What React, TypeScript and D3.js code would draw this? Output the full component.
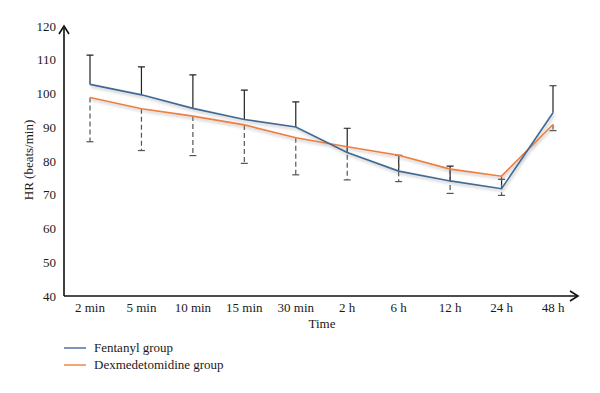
import React, { useEffect, useRef } from 'react';
import * as d3 from 'd3';

const times = ['2 min', '5 min', '10 min', '15 min', '30 min', '2 h', '6 h', '12 h', '24 h', '48 h'];
const fentanylMean = [102.7, 99.6, 95.6, 92.3, 90.1, 82.5, 77.0, 74.1, 71.8, 94.3];
const fentanylUpper = [111.4, 107.9, 105.5, 101.0, 97.5, 89.7, 81.7, 78.5, 74.6, 102.3];
const dexMean = [98.8, 95.5, 93.3, 90.7, 86.9, 84.2, 81.7, 77.6, 75.5, 90.8];
const dexLower = [85.7, 83.1, 81.6, 79.3, 75.9, 74.4, 73.9, 70.4, 69.8, 89.0];
const yTicks = [40, 50, 60, 70, 80, 90, 100, 110, 120];

const BLUE = '#3f6a95';
const ORANGE = '#f07e3c';
const FONT = '"Liberation Serif", "Times New Roman", serif';

export default function App() {
  const ref = useRef<SVGSVGElement | null>(null);

  useEffect(() => {
    const svg = d3.select(ref.current);
    svg.selectAll('*').remove();

    const x = d3.scalePoint<string>().domain(times).range([90, 553]);
    const y = d3.scaleLinear().domain([40, 120]).range([296, 26]);

    const defs = svg.append('defs');
    const f = defs
      .append('filter')
      .attr('id', 'glow')
      .attr('x', '-10%')
      .attr('y', '-20%')
      .attr('width', '120%')
      .attr('height', '140%');
    f.append('feDropShadow')
      .attr('dx', 1)
      .attr('dy', 2)
      .attr('stdDeviation', 1.6)
      .attr('flood-color', '#888')
      .attr('flood-opacity', 0.55);

    // axes
    const axis = svg.append('g').attr('stroke', '#111').attr('fill', 'none').attr('stroke-width', 1.6);
    axis.append('path').attr('d', `M64,${y(40)}V${y(120) + 2}`);
    axis.append('path').attr('d', `M59,${y(120) + 8}L64,${y(120)}L69,${y(120) + 8}`);
    axis.append('path').attr('d', `M64,${y(40)}H577`);
    axis.append('path').attr('d', `M570,${y(40) - 5}L578,${y(40)}L570,${y(40) + 5}`);

    svg
      .append('g')
      .selectAll('text')
      .data(yTicks)
      .join('text')
      .attr('x', 56)
      .attr('y', (d) => y(d))
      .attr('dy', '0.35em')
      .attr('text-anchor', 'end')
      .attr('font-family', FONT)
      .attr('font-size', 13)
      .attr('fill', '#1a1a1a')
      .text((d) => d);

    svg
      .append('g')
      .selectAll('text')
      .data(times)
      .join('text')
      .attr('x', (d) => x(d)!)
      .attr('y', 307)
      .attr('dy', '0.35em')
      .attr('text-anchor', 'middle')
      .attr('font-family', FONT)
      .attr('font-size', 13)
      .attr('fill', '#1a1a1a')
      .text((d) => d);

    svg
      .append('text')
      .attr('x', 322)
      .attr('y', 323)
      .attr('dy', '0.35em')
      .attr('text-anchor', 'middle')
      .attr('font-family', FONT)
      .attr('font-size', 13)
      .attr('fill', '#1a1a1a')
      .text('Time');

    svg
      .append('text')
      .attr('transform', `translate(28,160) rotate(-90)`)
      .attr('dy', '0.35em')
      .attr('text-anchor', 'middle')
      .attr('font-family', FONT)
      .attr('font-size', 13)
      .attr('fill', '#1a1a1a')
      .text('HR (beats/min)');

    // error bars
    const bars = svg.append('g');
    times.forEach((t, i) => {
      const cx = x(t)!;
      bars
        .append('path')
        .attr('d', `M${cx},${y(fentanylMean[i])}V${y(fentanylUpper[i])}M${cx - 3.5},${y(fentanylUpper[i])}H${cx + 3.5}`)
        .attr('stroke', '#222')
        .attr('stroke-width', 1.2)
        .attr('fill', 'none');
      bars
        .append('path')
        .attr('d', `M${cx},${y(dexMean[i])}V${y(dexLower[i])}`)
        .attr('stroke', '#555')
        .attr('stroke-width', 1.2)
        .attr('stroke-dasharray', '5,3')
        .attr('fill', 'none');
      bars
        .append('path')
        .attr('d', `M${cx - 3.5},${y(dexLower[i])}H${cx + 3.5}`)
        .attr('stroke', '#555')
        .attr('stroke-width', 1.2);
    });

    const line = d3
      .line<number>()
      .x((_, i) => x(times[i])!)
      .y((d) => y(d));

    const lines = svg.append('g').attr('filter', 'url(#glow)');
    lines
      .append('path')
      .attr('d', line(dexMean))
      .attr('stroke', ORANGE)
      .attr('stroke-width', 1.6)
      .attr('fill', 'none');
    lines
      .append('path')
      .attr('d', line(fentanylMean))
      .attr('stroke', BLUE)
      .attr('stroke-width', 1.6)
      .attr('fill', 'none');

    // legend
    const legend = [
      { name: 'Fentanyl group', color: BLUE },
      { name: 'Dexmedetomidine group', color: ORANGE },
    ];
    const lg = svg
      .append('g')
      .selectAll('g')
      .data(legend)
      .join('g')
      .attr('transform', (_, i) => `translate(64,${348 + i * 17})`);
    lg.append('line').attr('x1', 0).attr('x2', 22).attr('stroke', (d) => d.color).attr('stroke-width', 1.4);
    lg.append('text')
      .attr('x', 30)
      .attr('dy', '0.3em')
      .attr('font-family', FONT)
      .attr('font-size', 13)
      .attr('fill', '#1a1a1a')
      .text((d) => d.name);
  }, []);

  return (
    <svg
      ref={ref}
      width={600}
      height={393}
      style={{ position: 'absolute', left: 0, top: 0, background: '#fff' }}
    />
  );
}
